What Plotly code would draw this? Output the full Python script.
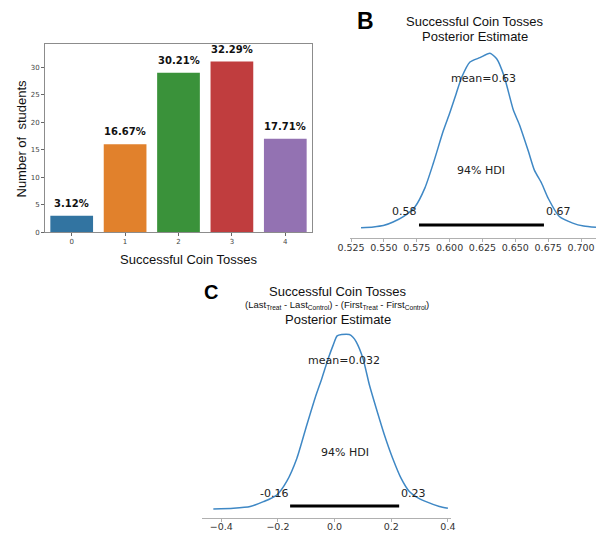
import plotly.graph_objects as go

W, H = 596, 533

# ---------------- data ----------------
tosses = [0, 1, 2, 3, 4]
students = [3, 16, 29, 31, 17]
bar_colors = ["#3274a1", "#e1812c", "#3a923a", "#c03d3e", "#9372b2"]
a_yticks = [0, 5, 10, 15, 20, 25, 30]

b_x = [0.5326, 0.5420, 0.5496, 0.5570, 0.5648, 0.5737, 0.5813, 0.5876, 0.5952, 0.6003,
       0.6050, 0.6092, 0.6155, 0.6231, 0.6307, 0.6358, 0.6415, 0.6485, 0.6530, 0.6600,
       0.6645, 0.6700, 0.6751, 0.6835, 0.6937, 0.7020, 0.7114]
b_density = [0.03, 0.10, 0.22, 0.55, 1.04, 1.95, 3.70, 5.93, 8.90, 10.6,
             12.3, 13.8, 15.2, 15.6, 16.0, 15.5, 13.9, 10.8, 9.5, 7.0,
             5.3, 4.1, 2.7, 1.05, 0.45, 0.18, 0.06]
b_mean = 0.626
b_hdi = [0.5767, 0.6718]
b_ticks = [0.525, 0.550, 0.575, 0.600, 0.625, 0.650, 0.675, 0.700]

c_x = [-0.428, -0.357, -0.298, -0.251, -0.204, -0.169, -0.133, -0.098, -0.069, -0.045,
       -0.022, -0.005, 0.009, 0.025, 0.052, 0.065, 0.076, 0.100, 0.123, 0.147,
       0.176, 0.205, 0.235, 0.264, 0.288, 0.323, 0.370, 0.400]
c_density = [0.02, 0.04, 0.08, 0.19, 0.34, 0.65, 1.18, 1.94, 2.55, 3.00,
             3.46, 3.76, 3.97, 4.00, 4.00, 3.94, 3.84, 3.46, 2.85, 2.32,
             1.71, 1.18, 0.72, 0.42, 0.30, 0.19, 0.08, 0.04]
c_mean = 0.032
c_hdi = [-0.157, 0.228]
c_ticks = [-0.4, -0.2, 0.0, 0.2, 0.4]


def px(x):
    return x / W


def py(y):
    return 1 - y / H


SANS = "Liberation Sans, Arial, sans-serif"
MPL = "DejaVu Sans, sans-serif"
CURVE = "#3f88c5"

fig = go.Figure()

# ---------------- panel A ----------------
fig.add_trace(go.Bar(x=tosses, y=students, marker=dict(color=bar_colors, line=dict(width=0)),
                     width=0.8, xaxis="x", yaxis="y", showlegend=False))
total = sum(students)
for t, s in zip(tosses, students):
    fig.add_annotation(x=t, y=s, xref="x", yref="y", text=f"<b>{s / total * 100:.2f}%</b>",
                       showarrow=False, yanchor="bottom", yshift=5,
                       font=dict(family=MPL, size=10, color="#111"))

# ---------------- panel B ----------------
b_peak = max(b_density)
fig.add_trace(go.Scatter(x=b_x, y=b_density, mode="lines",
                         line=dict(color=CURVE, width=1.5, shape="spline", smoothing=0.6),
                         xaxis="x2", yaxis="y2", showlegend=False))
fig.add_trace(go.Scatter(x=b_hdi, y=[b_peak * 0.017] * 2, mode="lines", line=dict(color="black", width=3),
                         xaxis="x2", yaxis="y2", showlegend=False))

# ---------------- panel C ----------------
c_peak = max(c_density)
fig.add_trace(go.Scatter(x=c_x, y=c_density, mode="lines",
                         line=dict(color=CURVE, width=1.5, shape="spline", smoothing=0.6),
                         xaxis="x3", yaxis="y3", showlegend=False))
fig.add_trace(go.Scatter(x=c_hdi, y=[c_peak * 0.022] * 2, mode="lines", line=dict(color="black", width=3),
                         xaxis="x3", yaxis="y3", showlegend=False))

ann_font = dict(family=MPL, size=11, color="#222")
for ax, peak, mean, hdi, mean_txt in (("2", b_peak, b_mean, b_hdi, f"mean={b_mean:.2f}"),
                                      ("3", c_peak, c_mean, c_hdi, f"mean={c_mean:.3f}")):
    xr, yr = "x" + ax, "y" + ax
    fig.add_annotation(x=mean, y=peak * 0.855, xref=xr, yref=yr, text=mean_txt,
                       showarrow=False, font=ann_font)
    fig.add_annotation(x=(hdi[0] + hdi[1]) / 2, y=peak * 0.33, xref=xr, yref=yr, text="94% HDI",
                       showarrow=False, font=ann_font)
    fig.add_annotation(x=hdi[0], y=peak * 0.093, xref=xr, yref=yr, text=f"{hdi[0]:.2f}",
                       showarrow=False, xanchor="right", font=ann_font)
    fig.add_annotation(x=hdi[1], y=peak * 0.093, xref=xr, yref=yr, text=f"{hdi[1]:.2f}",
                       showarrow=False, xanchor="left", font=ann_font)


# ---------------- titles / labels ----------------
def label(text, x, y, size, family=SANS, color="#111", angle=0):
    fig.add_annotation(x=px(x), y=py(y), xref="paper", yref="paper", text=text, showarrow=False,
                       xanchor="center", yanchor="middle", textangle=angle,
                       font=dict(family=family, size=size, color=color))


label("Number of  students", 21, 138.5, 13, angle=-90)
label("Successful Coin Tosses", 189, 259.3, 13)

label("<b>B</b>", 365, 21, 23, color="black")
label("Successful Coin Tosses", 474.5, 21, 13)
label("Posterior Estimate", 475, 37, 13)

label("<b>C</b>", 211, 292, 20, color="black")
label("Successful Coin Tosses", 338, 291, 13)
label("(Last<sub>Treat</sub> - Last<sub>Control</sub>) - (First<sub>Treat</sub> - First<sub>Control</sub>)",
      337, 304.5, 9.5)
label("Posterior Estimate", 338.3, 319, 13)

# ---------------- axes ----------------
frame = "#8c8c8c"
fig.update_layout(
    width=W, height=H, margin=dict(l=0, r=0, t=0, b=0, autoexpand=False),
    paper_bgcolor="white", plot_bgcolor="white", bargap=0.2,
    xaxis=dict(domain=[px(45), px(312)], range=[-0.5, 4.5], tickvals=tosses, ticktext=[str(t) for t in tosses],
               showline=True, linecolor=frame, linewidth=1, mirror=True, ticks="outside", ticklen=3,
               tickcolor="#666", tickfont=dict(family=MPL, size=7, color="#444"), showgrid=False,
               zeroline=False, automargin=False, ticklabelstandoff=-1),
    yaxis=dict(domain=[py(232.3), py(44)], range=[0, 34.2], tickvals=a_yticks,
               showline=True, linecolor=frame, linewidth=1, mirror=True, ticks="outside", ticklen=3,
               tickcolor="#666", tickfont=dict(family=MPL, size=7, color="#444"), showgrid=False,
               zeroline=False, automargin=False),
    xaxis2=dict(domain=[px(350), 1.0], range=[0.5242, 0.7114], tickvals=b_ticks, tickformat=".3f",
                anchor="y2", showline=True, linecolor="#b0b0b0", linewidth=1, ticks="outside", ticklen=3,
                tickcolor="#b0b0b0", tickfont=dict(family=MPL, size=9.5, color="#333"), showgrid=False,
                zeroline=False, automargin=False, ticklabelstandoff=-2),
    yaxis2=dict(domain=[py(238), py(45)], range=[-0.916, 16.76], visible=False, anchor="x2", automargin=False),
    xaxis3=dict(domain=[px(202), px(451)], range=[-0.468, 0.411], tickvals=c_ticks, tickformat=".1f",
                anchor="y3", showline=True, linecolor="#b0b0b0", linewidth=1, ticks="outside", ticklen=3,
                tickcolor="#b0b0b0", tickfont=dict(family=MPL, size=9.5, color="#333"), showgrid=False,
                zeroline=False, automargin=False, ticklabelstandoff=-3),
    yaxis3=dict(domain=[py(517.7), py(328)], range=[-0.176, 4.15], visible=False, anchor="x3", automargin=False),
)

fig.write_html("out.html", config={"displayModeBar": False},
               post_script="document.body.style.margin='0';document.body.style.overflow='hidden';")
